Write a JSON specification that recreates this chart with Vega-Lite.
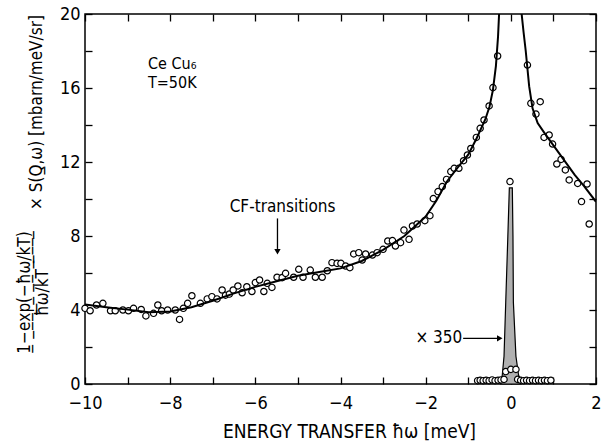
{
  "$schema": "https://vega.github.io/schema/vega-lite/v6.json",
  "width": 511,
  "height": 370,
  "autosize": "none",
  "padding": {"left": 85, "top": 14, "right": 6, "bottom": 57},
  "background": "white",
  "config": {
    "font": "DejaVu Sans Condensed, Liberation Sans Narrow, DejaVu Sans",
    "view": {"stroke": "black", "strokeWidth": 1.5},
    "axis": {
      "domain": false,
      "grid": false,
      "ticks": true,
      "tickColor": "black",
      "tickSize": -7,
      "tickWidth": 1.3,
      "labelColor": "black",
      "labelFont": "DejaVu Sans Condensed, Liberation Sans Narrow, DejaVu Sans",
      "labelFontSize": 18,
      "titleFont": "DejaVu Sans Condensed, Liberation Sans Narrow, DejaVu Sans",
      "titleFontSize": 17,
      "titleFontWeight": "normal",
      "titleColor": "black",
      "labelFlush": false,
      "labelOverlap": false
    }
  },
  "datasets": {
    "pts": [
      {"e": -10.0, "s": 4.09}, {"e": -9.88, "s": 3.96}, {"e": -9.73, "s": 4.27}, {"e": -9.58, "s": 4.36},
      {"e": -9.40, "s": 3.96}, {"e": -9.29, "s": 3.96}, {"e": -9.11, "s": 4.00}, {"e": -8.98, "s": 3.96},
      {"e": -8.86, "s": 4.09}, {"e": -8.68, "s": 4.03}, {"e": -8.57, "s": 3.68}, {"e": -8.39, "s": 3.82},
      {"e": -8.29, "s": 4.27}, {"e": -8.20, "s": 3.96}, {"e": -8.06, "s": 4.00}, {"e": -7.88, "s": 4.00},
      {"e": -7.78, "s": 3.49}, {"e": -7.69, "s": 4.09}, {"e": -7.59, "s": 4.36}, {"e": -7.49, "s": 4.77},
      {"e": -7.29, "s": 4.36}, {"e": -7.13, "s": 4.60}, {"e": -7.02, "s": 4.72}, {"e": -6.90, "s": 4.60},
      {"e": -6.78, "s": 5.08}, {"e": -6.70, "s": 4.80}, {"e": -6.61, "s": 4.86}, {"e": -6.52, "s": 5.08},
      {"e": -6.41, "s": 5.30}, {"e": -6.31, "s": 4.93}, {"e": -6.20, "s": 5.26}, {"e": -6.08, "s": 5.00},
      {"e": -6.00, "s": 5.48}, {"e": -5.90, "s": 5.62}, {"e": -5.80, "s": 5.00}, {"e": -5.72, "s": 5.44},
      {"e": -5.61, "s": 5.22}, {"e": -5.49, "s": 5.77}, {"e": -5.37, "s": 5.75}, {"e": -5.29, "s": 5.98},
      {"e": -5.10, "s": 5.77}, {"e": -4.98, "s": 6.20}, {"e": -4.88, "s": 5.77}, {"e": -4.71, "s": 6.16},
      {"e": -4.59, "s": 5.77}, {"e": -4.43, "s": 5.77}, {"e": -4.31, "s": 6.12}, {"e": -4.20, "s": 6.56},
      {"e": -4.08, "s": 6.52}, {"e": -3.99, "s": 6.52}, {"e": -3.88, "s": 6.38}, {"e": -3.78, "s": 6.29},
      {"e": -3.69, "s": 7.03}, {"e": -3.57, "s": 7.10}, {"e": -3.49, "s": 6.70}, {"e": -3.41, "s": 7.03},
      {"e": -3.25, "s": 6.97}, {"e": -3.14, "s": 7.10}, {"e": -3.00, "s": 7.28}, {"e": -2.89, "s": 7.73},
      {"e": -2.78, "s": 7.75}, {"e": -2.71, "s": 7.46}, {"e": -2.59, "s": 7.64}, {"e": -2.51, "s": 8.32},
      {"e": -2.39, "s": 7.82}, {"e": -2.31, "s": 8.54}, {"e": -2.20, "s": 8.65}, {"e": -2.02, "s": 8.83},
      {"e": -1.90, "s": 9.10}, {"e": -1.82, "s": 10.02}, {"e": -1.71, "s": 10.40}, {"e": -1.61, "s": 10.67},
      {"e": -1.51, "s": 11.06}, {"e": -1.41, "s": 11.48}, {"e": -1.33, "s": 11.66}, {"e": -1.22, "s": 11.66},
      {"e": -1.11, "s": 12.07}, {"e": -1.02, "s": 12.38}, {"e": -0.94, "s": 12.73}, {"e": -0.81, "s": 13.33},
      {"e": -0.72, "s": 13.82}, {"e": -0.63, "s": 14.27}, {"e": -0.51, "s": 15.03}, {"e": -0.42, "s": 16.02},
      {"e": -0.31, "s": 17.73},
      {"e": 0.39, "s": 17.24}, {"e": 0.47, "s": 15.17}, {"e": 0.59, "s": 14.59}, {"e": 0.69, "s": 15.26},
      {"e": 0.78, "s": 13.33}, {"e": 0.90, "s": 13.46}, {"e": 0.98, "s": 12.97}, {"e": 1.08, "s": 11.89},
      {"e": 1.18, "s": 12.14}, {"e": 1.28, "s": 11.57}, {"e": 1.37, "s": 11.03}, {"e": 1.57, "s": 10.84},
      {"e": 1.66, "s": 9.86}, {"e": 1.79, "s": 10.81}, {"e": 1.84, "s": 8.65}
    ],
    "curveL": [
      {"e": -10.0, "s": 4.3}, {"e": -9.5, "s": 4.15}, {"e": -9.0, "s": 4.02}, {"e": -8.5, "s": 3.88},
      {"e": -8.0, "s": 3.92}, {"e": -7.5, "s": 4.15}, {"e": -7.0, "s": 4.5}, {"e": -6.5, "s": 4.9},
      {"e": -6.0, "s": 5.25}, {"e": -5.5, "s": 5.55}, {"e": -5.0, "s": 5.85}, {"e": -4.5, "s": 6.05},
      {"e": -4.0, "s": 6.25}, {"e": -3.5, "s": 6.65}, {"e": -3.0, "s": 7.25}, {"e": -2.5, "s": 8.0},
      {"e": -2.0, "s": 9.05}, {"e": -1.75, "s": 9.9}, {"e": -1.5, "s": 10.95}, {"e": -1.25, "s": 11.7},
      {"e": -1.0, "s": 12.4}, {"e": -0.8, "s": 13.3}, {"e": -0.6, "s": 14.3}, {"e": -0.5, "s": 15.0},
      {"e": -0.42, "s": 15.9}, {"e": -0.35, "s": 17.2}, {"e": -0.3, "s": 18.8}, {"e": -0.27, "s": 20.3}
    ],
    "curveR": [
      {"e": 0.24, "s": 20.3}, {"e": 0.3, "s": 19.0}, {"e": 0.35, "s": 18.0}, {"e": 0.43, "s": 16.1},
      {"e": 0.51, "s": 14.9}, {"e": 0.63, "s": 14.1}, {"e": 0.78, "s": 13.6}, {"e": 1.0, "s": 12.9},
      {"e": 1.25, "s": 12.1}, {"e": 1.5, "s": 11.3}, {"e": 1.72, "s": 10.7}, {"e": 2.0, "s": 9.85}
    ],
    "peak": [
      {"s": 0.0, "lo": -0.24, "hi": 0.24}, {"s": 0.5, "lo": -0.2, "hi": 0.18},
      {"s": 1.5, "lo": -0.16, "hi": 0.12}, {"s": 4.4, "lo": -0.12, "hi": 0.06},
      {"s": 8.0, "lo": -0.07, "hi": 0.05}, {"s": 10.6, "lo": -0.035, "hi": 0.035}
    ],
    "el": [
      {"e": -0.02, "s": 10.94}, {"e": -0.12, "s": 0.67}, {"e": 0.0, "s": 0.79}, {"e": 0.12, "s": 0.79},
      {"e": -0.78, "s": 0.18}, {"e": -0.72, "s": 0.2}, {"e": -0.65, "s": 0.18}, {"e": -0.58, "s": 0.2},
      {"e": -0.51, "s": 0.18}, {"e": -0.44, "s": 0.22}, {"e": -0.37, "s": 0.18}, {"e": -0.3, "s": 0.2},
      {"e": -0.23, "s": 0.22}, {"e": -0.16, "s": 0.25},
      {"e": 0.16, "s": 0.25}, {"e": 0.23, "s": 0.2}, {"e": 0.3, "s": 0.18}, {"e": 0.37, "s": 0.2},
      {"e": 0.44, "s": 0.18}, {"e": 0.51, "s": 0.2}, {"e": 0.58, "s": 0.18}, {"e": 0.65, "s": 0.2},
      {"e": 0.72, "s": 0.18}, {"e": 0.79, "s": 0.2}, {"e": 0.86, "s": 0.18}, {"e": 0.94, "s": 0.2}
    ],
    "notesL": [
      {"e": -8.52, "s": 17.3, "t": "Ce Cu₆"},
      {"e": -8.52, "s": 16.25, "t": "T=50K"}
    ],
    "notesC": [{"e": -5.36, "s": 9.57, "t": "CF-transitions"}],
    "notesR": [{"e": -1.14, "s": 2.47, "t": "× 350"}],
    "arrows": [
      {"e": -5.48, "s": 8.95, "e2": -5.48, "s2": 7.3},
      {"e": -1.12, "s": 2.47, "e2": -0.32, "s2": 2.47}
    ],
    "headD": [{"e": -5.48, "s": 7.15}],
    "headR": [{"e": -0.26, "s": 2.47}]
  },
  "layer": [
    {
      "data": {"name": "pts"},
      "mark": {"type": "point", "shape": "circle", "filled": true, "fill": "white", "stroke": "black", "strokeWidth": 1.2, "size": 40, "opacity": 1},
      "encoding": {
        "x": {
          "field": "e", "type": "quantitative",
          "scale": {"domain": [-10, 2], "nice": false, "zero": false},
          "axis": {
            "orient": "bottom",
            "values": [-10, -9, -8, -7, -6, -5, -4, -3, -2, -1, 0, 1, 2],
            "labelExpr": "datum.value % 2 === 0 ? datum.label : ''",
            "labelPadding": 17,
            "title": "ENERGY TRANSFER ħω [meV]",
            "titleFontSize": 19,
            "titleX": 264,
            "titleY": 53,
            "titleBaseline": "alphabetic"
          }
        },
        "y": {
          "field": "s", "type": "quantitative",
          "scale": {"domain": [0, 20], "nice": false, "zero": false},
          "axis": {
            "orient": "left",
            "values": [0, 2, 4, 6, 8, 10, 12, 14, 16, 18, 20],
            "labelExpr": "datum.value % 4 === 0 ? datum.label : ''",
            "labelPadding": 12,
            "title": ["1̲−̲e̲x̲p̲(̲−̲ħ̲ω̲/̲k̲T̲)̲", "ħω/kT"],
            "titleLineHeight": 18,
            "titleAngle": 270,
            "titleAlign": "center",
            "titleBaseline": "top",
            "titleX": -69,
            "titleY": 278
          }
        }
      }
    },
    {
      "data": {"name": "curveL"},
      "mark": {"type": "line", "color": "black", "strokeWidth": 2, "clip": true},
      "encoding": {
        "x": {"field": "e", "type": "quantitative", "axis": {"orient": "top", "labels": false, "title": null, "values": [-10, -9, -8, -7, -6, -5, -4, -3, -2, -1, 0, 1, 2]}},
        "y": {"field": "s", "type": "quantitative", "axis": {"orient": "right", "labels": false, "title": null, "values": [0, 2, 4, 6, 8, 10, 12, 14, 16, 18, 20]}}
      }
    },
    {
      "data": {"name": "curveR"},
      "mark": {"type": "line", "color": "black", "strokeWidth": 2, "clip": true},
      "encoding": {
        "x": {"field": "e", "type": "quantitative", "axis": null},
        "y": {"field": "s", "type": "quantitative", "axis": {"orient": "left", "labels": false, "ticks": false, "title": "× S(Q̲,ω) [mbarn/meV/sr]", "titleAngle": 270, "titleAlign": "center", "titleBaseline": "middle", "titleX": -49, "titleY": 98}}
      }
    },
    {
      "data": {"name": "peak"},
      "mark": {"type": "area", "orient": "horizontal", "fill": "#b0b0b0", "stroke": "black", "strokeWidth": 1.2},
      "encoding": {
        "y": {"field": "s", "type": "quantitative", "axis": null},
        "x": {"field": "lo", "type": "quantitative", "axis": null},
        "x2": {"field": "hi"}
      }
    },
    {
      "data": {"name": "el"},
      "mark": {"type": "point", "shape": "circle", "filled": true, "fill": "white", "stroke": "black", "strokeWidth": 1.2, "size": 40, "opacity": 1},
      "encoding": {
        "x": {"field": "e", "type": "quantitative", "axis": null},
        "y": {"field": "s", "type": "quantitative", "axis": null}
      }
    },
    {
      "data": {"name": "arrows"},
      "mark": {"type": "rule", "color": "black", "strokeWidth": 1.3},
      "encoding": {
        "x": {"field": "e", "type": "quantitative", "axis": null},
        "y": {"field": "s", "type": "quantitative", "axis": null},
        "x2": {"field": "e2"},
        "y2": {"field": "s2"}
      }
    },
    {
      "data": {"name": "headD"},
      "mark": {"type": "point", "shape": "triangle-down", "filled": true, "color": "black", "size": 40, "opacity": 1},
      "encoding": {
        "x": {"field": "e", "type": "quantitative", "axis": null},
        "y": {"field": "s", "type": "quantitative", "axis": null}
      }
    },
    {
      "data": {"name": "headR"},
      "mark": {"type": "point", "shape": "triangle-right", "filled": true, "color": "black", "size": 40, "opacity": 1},
      "encoding": {
        "x": {"field": "e", "type": "quantitative", "axis": null},
        "y": {"field": "s", "type": "quantitative", "axis": null}
      }
    },
    {
      "data": {"name": "notesL"},
      "mark": {"type": "text", "align": "left", "baseline": "middle", "fontSize": 16, "color": "black"},
      "encoding": {
        "x": {"field": "e", "type": "quantitative", "axis": null},
        "y": {"field": "s", "type": "quantitative", "axis": null},
        "text": {"field": "t"}
      }
    },
    {
      "data": {"name": "notesC"},
      "mark": {"type": "text", "align": "center", "baseline": "middle", "fontSize": 17, "color": "black"},
      "encoding": {
        "x": {"field": "e", "type": "quantitative", "axis": null},
        "y": {"field": "s", "type": "quantitative", "axis": null},
        "text": {"field": "t"}
      }
    },
    {
      "data": {"name": "notesR"},
      "mark": {"type": "text", "align": "right", "baseline": "middle", "fontSize": 17, "color": "black"},
      "encoding": {
        "x": {"field": "e", "type": "quantitative", "axis": null},
        "y": {"field": "s", "type": "quantitative", "axis": null},
        "text": {"field": "t"}
      }
    }
  ],
  "resolve": {"axis": {"x": "independent", "y": "independent"}}
}
